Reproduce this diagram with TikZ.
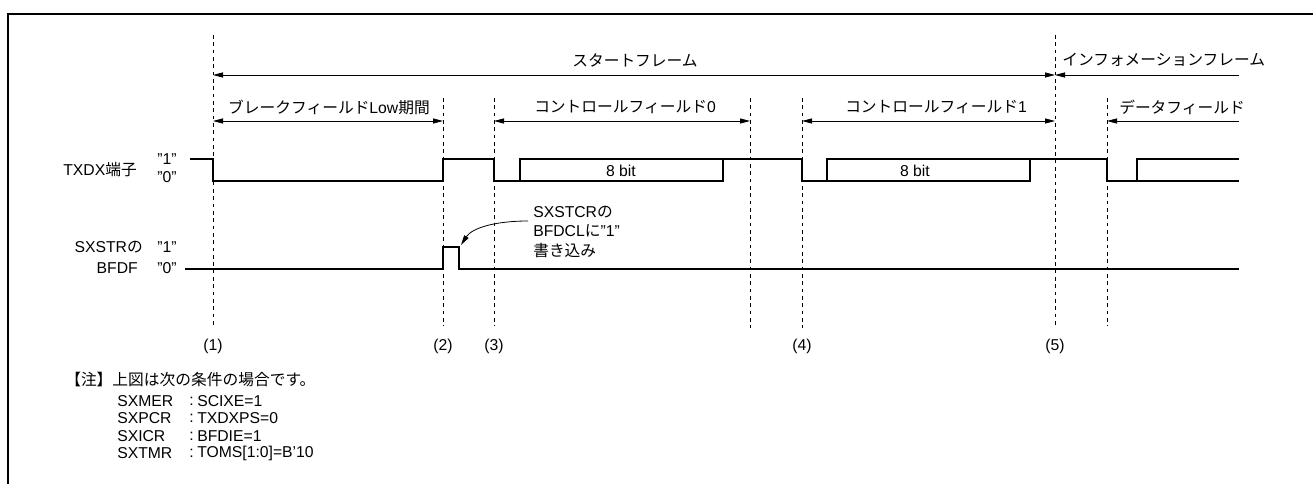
\documentclass[tikz,border=0pt]{standalone}
\usepackage{fontspec}
\setmainfont{Liberation Sans}
\newfontfamily\jpfont{Noto Sans CJK JP}
\usetikzlibrary{arrows.meta,positioning,calc}

\begin{document}
\begin{tikzpicture}[x=0.75pt,y=-0.75pt,>={Triangle[length=7.5pt,width=3.8pt]},
 font=\fontsize{11.8}{14.3}\selectfont,
 tl/.style={line width=0.6pt,dash pattern=on 2.8pt off 2.7pt},
 dim/.style={<->,line width=0.6pt},
 sig/.style={line width=1.4pt,line join=miter},
 lbl/.style={inner sep=0pt},
 nt/.style={inner sep=0pt,anchor=west}]
\useasboundingbox (0,0) rectangle (1313,484);
\draw[line width=1.5pt] (8,484) -- (8,14) -- (1313,14);
% timing marks
\foreach \n/\x/\a/\b in {t1/213/35/327,t2/443/98/326,t3/494/98/326,tm/750/98/328,t4/802/98/328,t5/1055/35/328,t6/1107/98/326}
 {\coordinate (\n) at (\x,0);
  \draw[tl] (\x,\a) -- (\x,\b);}
\coordinate (te) at (1239,0);
% frames and fields
\foreach \a/\b/\y in {t1/t5/75,t1/t2/121,t3/tm/121,t4/t5/121} \draw[dim] (\a|-0,\y) -- (\b|-0,\y);
\draw[<-,line width=0.6pt] (t5|-0,75) -- (te|-0,75);
\draw[<-,line width=0.6pt] (t6|-0,121) -- (te|-0,121);
\node[lbl] (sf) at (635,60) {\jpfont スタートフレーム};
\node[lbl,anchor=west] (inf) at (1062,60) {\jpfont インフォメーションフレーム};
\node[lbl] (bf) at (329,107.5) {{\jpfont ブレークフィールド}Low{\jpfont 期間}};
\node[lbl] (cf0) at (625,107.5) {{\jpfont コントロールフィールド}0};
\node[lbl] (cf1) at (936,107.5) {{\jpfont コントロールフィールド}1};
\node[lbl,anchor=west] (df) at (1119,107.5) {\jpfont データフィールド};
% TXDX
\draw[sig] (190,159) -- (213,159) -- (213,181) -- (443,181) -- (443,159) -- (494,159) -- (494,181) -- (520,181) -- (520,159)
 -- (802,159) -- (802,181) -- (827,181) -- (827,159) -- (1107,159) -- (1107,181) -- (1137,181) -- (1137,159) -- (1239,159);
\foreach \a/\b in {520/723,827/1030} \draw[sig] (\a,181) -| (\b,159);
\draw[sig] (1137,181) -- (1239,181);
\node[lbl] (b0) at (621,171) {8 bit};
\node[lbl] (b1) at (915,171) {8 bit};
\node[lbl,anchor=east] (txd) at (137,170) {TXDX{\jpfont 端子}};
\node[lbl] (tx1) at (167,159.5) {"1"};
\node[lbl] (tx0) at (167,177) {"0"};
% SXSTR.BFDF
\draw[sig] (185,269) -- (443,269) -- (443,247) -- (459,247) -- (459,269) -- (1239,269);
\node[lbl,anchor=east] (sxs) at (143,247.5) {SXSTR{\jpfont の}};
\node[lbl,anchor=east] (bfd) at (138,268) {BFDF};
\node[lbl] (bf1) at (167,247.5) {"1"};
\node[lbl] (bf0) at (167,268) {"0"};
\node[lbl,anchor=west,align=left] (wr) at (533,232) {SXSTCR{\jpfont の}\\BFDCL{\jpfont に}"1"\\{\jpfont 書き込み}};
\draw[->,line width=0.6pt] (528,221) .. controls (495,221) and (472,228) .. (461,245);
% points
\foreach \n/\t in {1/t1,2/t2,3/t3,4/t4,5/t5} \node[lbl] (m\n) at (\t|-0,346) {(\n)};
% note
\node[nt] (nh) at (65,380) {\jpfont 【注】上図は次の条件の場合です。};
\foreach \i/\r/\v/\y in {1/SXMER/SCIXE=1/401,2/SXPCR/TXDXPS=0/418.5,3/SXICR/BFDIE=1/436,4/SXTMR/{TOMS[1:0]=B'10}/453.5}
 {\node[nt] (r\i) at (117,\y) {\r};
  \node[nt] (c\i) at (189,\y) {:};
  \node[nt] (v\i) at (197,\y) {\v};}
\end{tikzpicture}
\end{document}
